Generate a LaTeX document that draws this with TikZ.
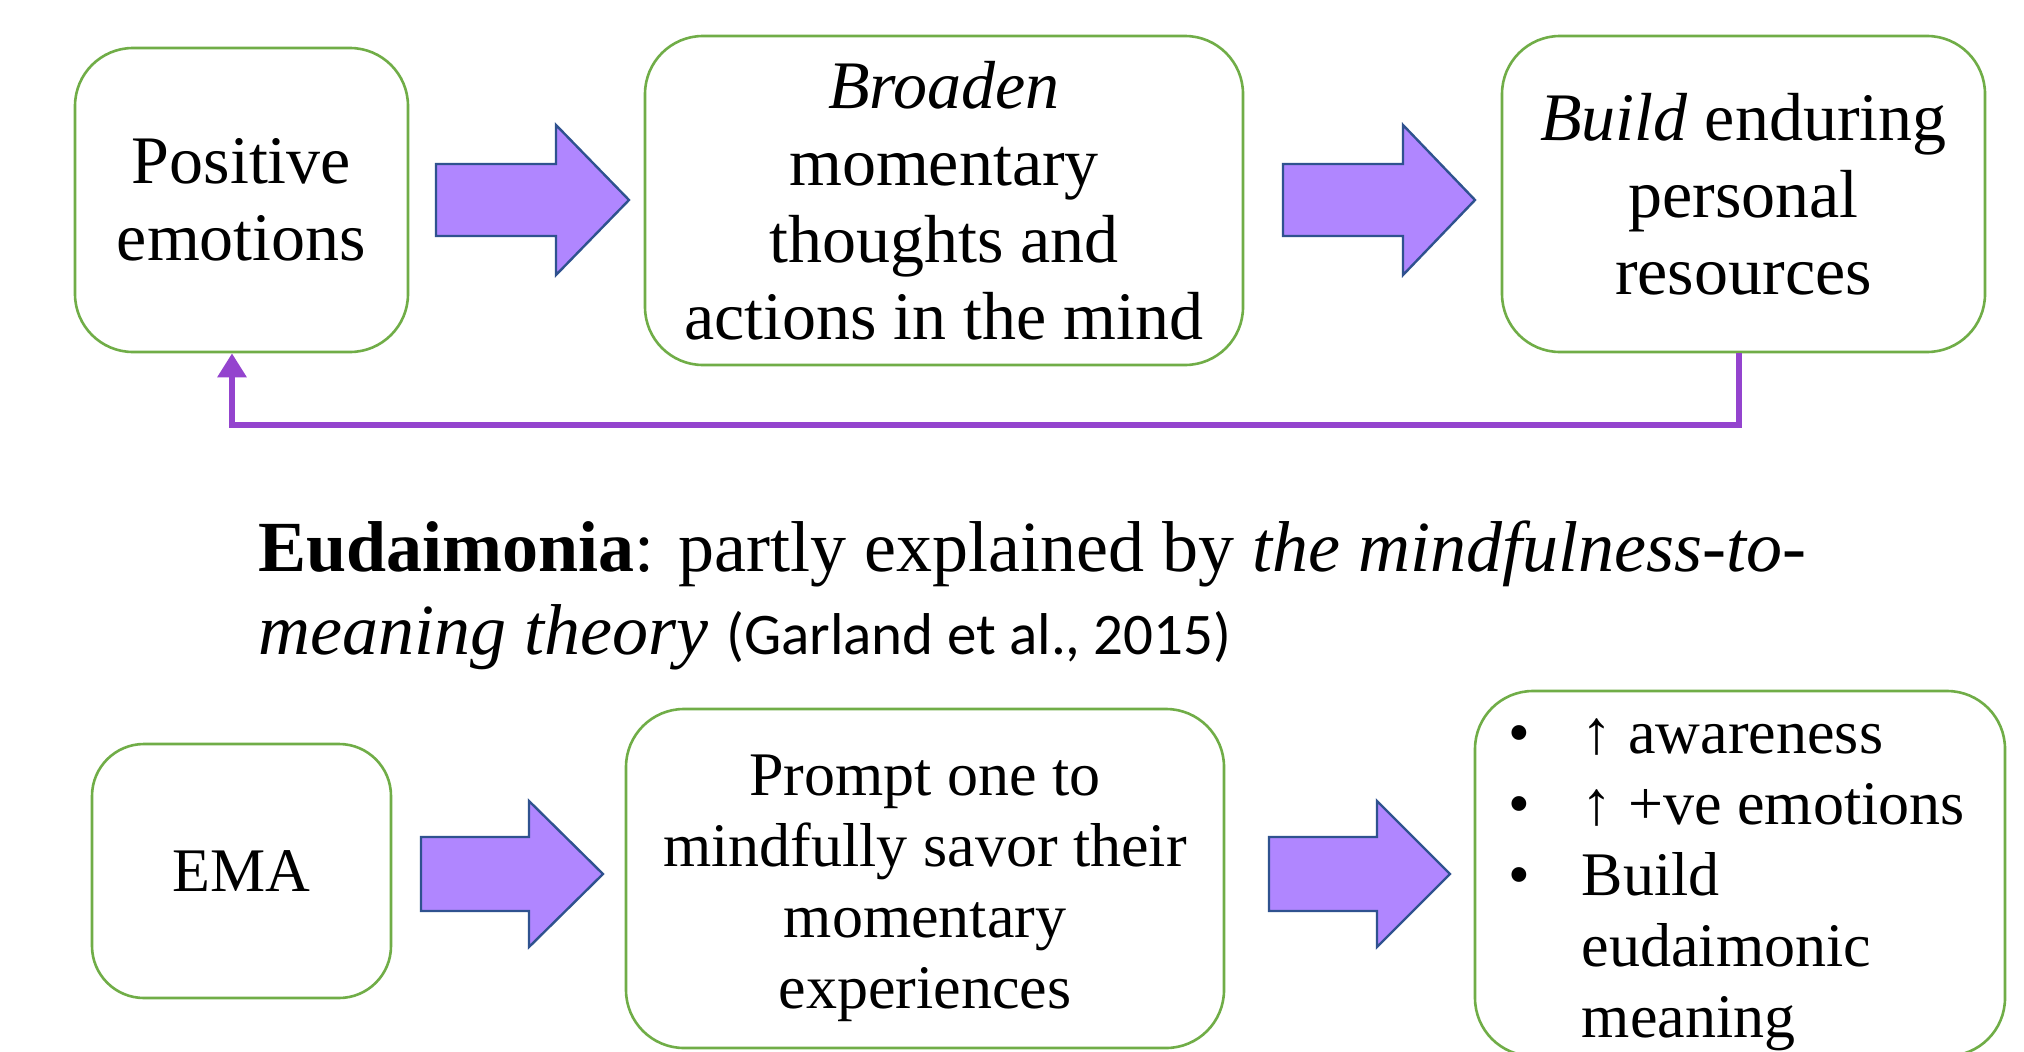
\documentclass[tikz,border=0pt]{standalone}
\usepackage{fontspec}
\setmainfont{Liberation Serif}
\newfontfamily\citefont{Carlito}
\usetikzlibrary{arrows.meta}
\definecolor{boxgreen}{RGB}{112,173,71}
\definecolor{arrfill}{RGB}{176,134,255}
\definecolor{arrline}{RGB}{47,82,143}
\definecolor{fbpurple}{RGB}{148,68,206}
\tikzset{
  box/.style={draw=boxgreen, line width=2.6pt, rounded corners=58pt, fill=white, inner sep=0pt, align=center},
  topfont/.style={font=\fontsize{68}{77}\selectfont},
  botfont/.style={font=\fontsize{62}{71}\selectfont},
  txt/.style={inner sep=0pt, align=center},
  barrow/.style={draw=arrline, fill=arrfill, line width=2.4pt, line join=miter},
  fb/.style={draw=fbpurple, line width=6.5pt, -{Triangle[width=28pt,length=24pt]}}
}
\begin{document}
\begin{tikzpicture}[x=1pt,y=-1pt]
\useasboundingbox[fill=white] (0,0) rectangle (2024,1052);
% top row
\node[box, topfont, minimum width=333pt, minimum height=304pt] (b1) at (241.5,200) {Positive\\emotions};
\node[box, topfont, minimum width=598pt, minimum height=329pt] (b2) at (944,200.5) {\textit{Broaden}\\momentary\\thoughts and\\actions in the mind};
\node[box, topfont, minimum width=483pt, minimum height=316pt] (b3) at (1743.5,194) {\textit{Build} enduring\\personal\\resources};
\draw[barrow, shift={(436,200)}] (0,-36) -- (120,-36) -- (120,-75) -- (193,0) -- (120,75) -- (120,36) -- (0,36) -- cycle;
\draw[barrow, shift={(1283,200)}] (0,-36) -- (120,-36) -- (120,-75) -- (192,0) -- (120,75) -- (120,36) -- (0,36) -- cycle;
% feedback loop
\coordinate (fbc) at (1739,425);
\draw[fb] ([xshift=-4.5pt]b3.south) -- (fbc) -| ([xshift=-9.5pt]b1.south);
% title
\node[anchor=base west, inner sep=0pt, font=\fontsize{72}{83}\selectfont] (t1) at (258,571) {\textbf{Eudaimonia}: partly explained by \textit{the mindfulness-to-}};
\node[anchor=base west, inner sep=0pt, font=\fontsize{72}{83}\selectfont] (t2) at (258,654) {\textit{meaning theory} {\citefont\fontsize{59}{66}\selectfont(Garland et al., 2015)}};
% bottom row
\node[box, botfont, minimum width=299pt, minimum height=254pt, rounded corners=52pt] (b4) at (241.5,871) {EMA};
\node[box, minimum width=598pt, minimum height=339pt] (b5) at (925,878.5) {};
\node[txt, botfont] (b5t) at (925,888) {Prompt one to\\mindfully savor their\\momentary\\experiences};
\node[box, minimum width=530pt, minimum height=365pt] (b6) at (1740,873.5) {};
\draw[barrow, shift={(421,874)}] (0,-37) -- (108,-37) -- (108,-73) -- (182,0) -- (108,73) -- (108,37) -- (0,37) -- cycle;
\draw[barrow, shift={(1269,874)}] (0,-37) -- (108,-37) -- (108,-73) -- (181,0) -- (108,73) -- (108,37) -- (0,37) -- cycle;
\node[anchor=north west, inner sep=0pt, botfont] (b6t) at (1508,704) {%
  \renewcommand\arraystretch{1}%
  \begin{tabular}{@{}l@{\hspace{52pt}}l@{}}
  •&↑ awareness\\
  •&↑ +ve emotions\\
  •&Build\\
  &eudaimonic\\
  &meaning
  \end{tabular}};
\end{tikzpicture}
\end{document}
